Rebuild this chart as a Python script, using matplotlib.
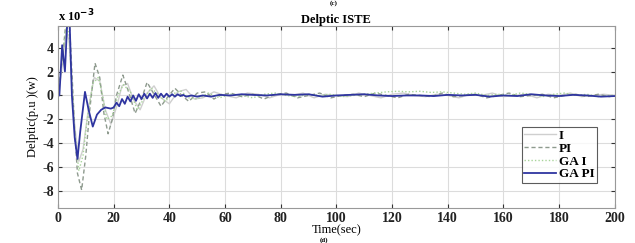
import matplotlib
matplotlib.use("Agg")
import matplotlib.pyplot as plt

# values in units of 1e-3
t_i = [0, 1, 2, 3, 4, 5, 6, 7.5, 9, 11, 13, 15, 17, 19, 21, 23, 25, 27, 29.5, 32, 34.5, 37, 40, 43, 46, 49,
       52, 56, 60, 64, 68, 72, 76, 80, 84, 88, 92, 96, 100, 104, 108, 112, 116, 120, 124, 128, 132, 136,
       140, 144, 148, 152, 156, 160, 164, 168, 172, 176, 180, 184, 188, 192, 196, 200]
v_i = [0, 1.5, 3.5, 5.5, 4.5, 1.0, -2.5, -5.5, -4.5, -1.0, 1.5, 1.2, -1.2, -2.4, -1.0, 0.8, 1.0, -0.3, -1.2, 0.2,
       0.8, -0.2, -0.7, 0.3, 0.5, -0.3, -0.2, 0.3, 0.0, -0.2, 0.2, 0.1, -0.2, 0.1, 0.0, 0.2, -0.2, 0.1, 0.0,
       -0.1, 0.2, 0.0, -0.2, 0.1, 0.2, 0.0, -0.1, 0.1, 0.0, -0.2, 0.1, 0.0, 0.2, -0.1, 0.0, 0.1, -0.2, 0.1,
       0.0, 0.2, -0.1, 0.0, 0.1, 0.0]

t_pi = [0, 1, 2, 3, 4, 5, 6, 7, 8.5, 10, 11.5, 13.3, 15, 16.5, 18, 19.5, 21, 23.3, 25.5, 27.7, 30, 32, 34.5,
        37, 39.5, 42, 44.5, 47, 50, 53, 56, 59, 62, 66, 70, 74, 78, 82, 86, 90, 94, 98, 102, 106, 110, 114,
        118, 122, 126, 130, 134, 138, 142, 146, 150, 154, 158, 162, 166, 170, 174, 178, 182, 186, 190, 194,
        198, 200]
v_pi = [0, 2.0, 4.0, 6.5, 6.5, 2.0, -3.0, -6.5, -7.9, -5.0, -1.0, 2.7, 1.5, -1.5, -3.2, -2.0, 0.0, 1.7, 0.2,
        -1.5, -0.3, 1.1, 0.1, -0.9, -0.1, 0.6, 0.0, -0.5, 0.2, 0.3, -0.3, 0.1, 0.2, -0.1, 0.1, -0.3, 0.1, 0.2,
        -0.2, 0.0, 0.2, -0.2, 0.0, 0.1, -0.1, 0.2, 0.0, -0.2, 0.1, 0.0, -0.1, 0.2, -0.1, 0.0, 0.1, -0.2, 0.0,
        0.2, -0.1, 0.0, 0.1, -0.2, 0.0, 0.1, -0.1, 0.1, -0.1, 0.0]

t_gai = [0, 1, 2, 3, 4, 5, 6, 7.5, 9, 10.5, 12.5, 14.5, 16, 17.5, 19.5, 21.5, 23.5, 26, 28.5, 31, 33.5, 36,
         38.5, 41, 44, 47, 50, 54, 58, 62, 66, 70, 74, 78, 82, 86, 90, 94, 98, 102, 106, 110, 114, 118, 122,
         126, 130, 134, 138, 142, 146, 150, 154, 158, 162, 166, 170, 174, 178, 182, 186, 190, 194, 198, 200]
v_gai = [0, 2.0, 4.0, 6.0, 5.0, 1.0, -3.0, -6.3, -5.0, -2.0, 1.0, 1.5, 0.0, -2.0, -1.7, 0.0, 0.9, 0.3, -1.2,
         -0.2, 0.6, 0.1, -0.5, 0.1, 0.4, -0.2, -0.3, 0.2, -0.2, 0.1, 0.0, -0.2, 0.1, 0.2, 0.0, -0.1, 0.1, 0.0,
         0.1, -0.1, 0.0, 0.1, 0.2, 0.3, 0.35, 0.3, 0.35, 0.25, 0.3, 0.2, 0.1, 0.2, 0.0, 0.1, 0.0, 0.2, 0.1,
         -0.1, 0.1, 0.2, 0.0, 0.1, -0.1, 0.0, 0.0]

t_gapi = [0, 0.5, 1.5, 2.5, 3.5, 4.2, 5, 6, 7, 8, 9.7, 11, 12.5, 14, 15.5, 17, 19,
          20, 21, 22, 23, 24, 25, 26, 27, 28, 29, 30, 31, 32, 33, 34, 35, 36, 37, 38, 39, 40, 41, 42, 43,
          44, 45, 46, 48, 50, 52, 55, 58, 62, 66, 70, 75, 80, 85, 90, 95, 100, 105, 110, 115, 120, 125,
          130, 135, 140, 145, 150, 155, 160, 165, 170, 175, 180, 185, 190, 195, 200]
v_gapi = [0, 0, 4.2, 2.0, 7.0, 6.0, 0.0, -3.5, -5.3, -3.0, 0.3, -1.2, -2.6, -1.6, -1.2, -1.0, -1.1,
          -1.0, -0.6, -0.9, -0.3, -0.7, -0.1, -0.5, 0.0, -0.45, 0.1, -0.3, 0.15, -0.25, 0.15, -0.2, 0.2, -0.2,
          0.15, -0.15, 0.15, -0.1, 0.1, -0.1, 0.1, -0.05, 0.05, -0.1, 0.0, -0.1, 0.0, -0.1, 0.05, 0.0, 0.1,
          0.05, 0.0, 0.1, 0.05, 0.1, -0.1, 0.0, 0.05, 0.1, 0.0, -0.05, 0.0, 0.0, -0.05, 0.05, 0.0, 0.05, -0.1,
          0.0, -0.05, 0.1, 0.0, -0.05, 0.05, 0.0, -0.1, -0.05]

plt.rcParams['font.family'] = ['Liberation Serif', 'DejaVu Serif']
plt.rcParams['font.weight'] = 'bold'
plt.rcParams['axes.unicode_minus'] = False

fig = plt.figure(figsize=(6.35, 2.43), dpi=100)
ax = fig.add_axes([0.0913, 0.144, 0.877, 0.749])

ax.plot(t_i, v_i, color='#cfcfcf', lw=1.0, label='I')
ax.plot(t_pi, v_pi, color='#8e9a8e', lw=1.0, ls=(0, (3, 2)), label='PI')
ax.plot(t_gai, v_gai, color='#a8d49a', lw=1.0, ls=(0, (1, 1.5)), label='GA I')
ax.plot(t_gapi, v_gapi, color='#2f35a0', lw=1.3, label='GA PI')

ax.set_xlim(0, 200)
ax.set_ylim(-9.4, 5.8)
ax.set_xticks(range(0, 201, 20))
ax.set_yticks([-8, -6, -4, -2, 0, 2, 4])
ax.grid(True, color='#dcdcdc', lw=0.8)
ax.tick_params(direction='in', length=3, labelsize=10, top=True, right=True, colors='#333333',
               labelcolor='#222222', pad=3)
for s in ax.spines.values():
    s.set_color('#999999')
    s.set_linewidth(0.8)

ax.set_title('Delptic ISTE', fontsize=9, pad=2, fontweight='bold')
ax.set_xlabel('Time(sec)', fontsize=9, labelpad=-1)
ax.set_ylabel('Delptic(p.u )(w)', fontsize=9, labelpad=2)
ax.text(0.0, 1.01, 'x 10$^{-3}$', transform=ax.transAxes, fontsize=9, va='bottom', ha='left')

fig.text(0.525, 0.998, '(c)', fontsize=5, ha='center', va='top')
fig.text(0.51, 0.0, '(d)', fontsize=5, ha='center', va='bottom')

leg = ax.legend(loc='lower right', bbox_to_anchor=(0.968, 0.137), fontsize=9.5, frameon=True,
                fancybox=False, edgecolor='#333333', handlelength=2.4, handletextpad=0.2,
                borderpad=0.2, labelspacing=0.05, borderaxespad=0)
leg.get_frame().set_linewidth(0.8)

fig.savefig('out.png', dpi=100)
